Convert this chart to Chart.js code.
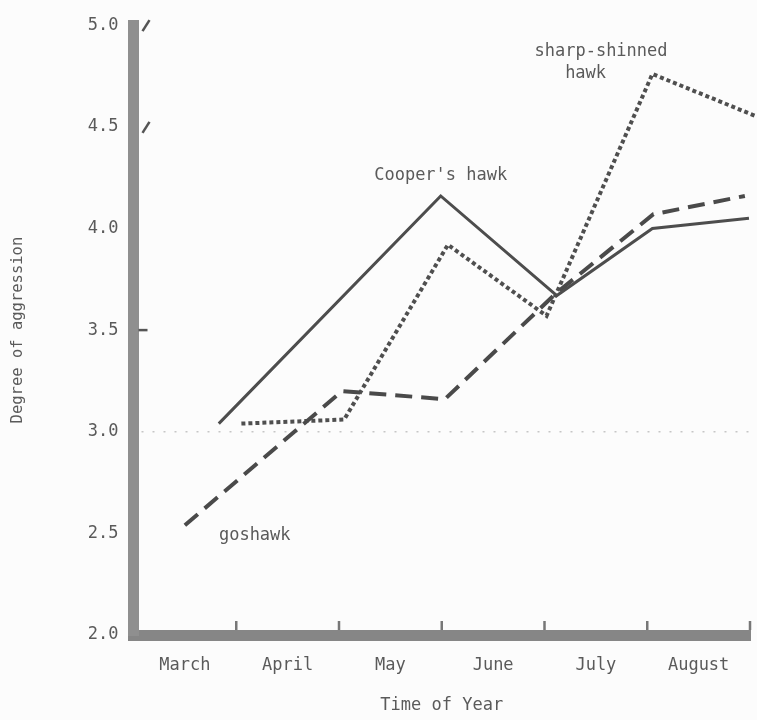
<!DOCTYPE html>
<html lang="en">
<head>
<meta charset="UTF-8">
<title>Degree of aggression</title>
<script src="https://cdn.jsdelivr.net/npm/chart.js@4/dist/chart.umd.min.js"></script>
<style>
  body { margin: 0; background: #fcfcfc; }
</style>
</head>
<body>
<canvas id="cChart" width="757" height="720"></canvas>
<script>
// months sit in the middle of each bin, the marks on the axis are month ends
const months = ['March', 'April', 'May', 'June', 'July', 'August'];
const monthMid = [0.5, 1.5, 2.5, 3.5, 4.5, 5.5];
const monthEnd = [1, 2, 3, 4, 5, 6];
const yMarks = [5.0, 4.5, 3.5];

// time of year (in months from start of March) and degree of aggression
const coopersTime = [0.83, 2.99, 4.12, 5.05, 5.99];
const coopersValue = [3.04, 4.16, 3.67, 4.00, 4.05];
const goshawkTime = [0.50, 2.03, 3.03, 4.11, 5.06, 5.95];
const goshawkValue = [2.54, 3.20, 3.16, 3.68, 4.07, 4.16];
const sharpTime = [1.05, 2.05, 3.06, 4.02, 5.05, 6.07];
const sharpValue = [3.04, 3.06, 3.92, 3.57, 4.76, 4.55];

const notes = [
  {text: "Cooper's hawk", x: 2.99, y: 4.26},
  {text: 'goshawk', x: 1.18, y: 2.49},
  {text: 'sharp-shinned', x: 4.55, y: 4.87},
  {text: 'hawk', x: 4.40, y: 4.76}
];

const toPoints = (t, v) => t.map((x, i) => ({x: x, y: v[i]}));

const FONT = "'DejaVu Sans Mono', 'Liberation Mono', monospace";
Chart.defaults.font.family = FONT;
Chart.defaults.font.size = 17;
Chart.defaults.color = '#5a5a5a';

const extras = {
  id: 'extras',
  beforeDatasetsDraw(chart) {
    const {ctx, chartArea: a, scales: {x, y}} = chart;
    ctx.save();
    // faint dotted line at 3.0
    const y3 = y.getPixelForValue(3);
    ctx.strokeStyle = '#c6c6c6';
    ctx.lineWidth = 1.5;
    ctx.setLineDash([2, 9]);
    ctx.beginPath();
    ctx.moveTo(a.left + 8, y3);
    ctx.lineTo(a.right, y3);
    ctx.stroke();
    ctx.setLineDash([]);
    // month end marks on the x bar
    ctx.strokeStyle = '#777';
    ctx.lineWidth = 2.5;
    monthEnd.forEach(v => {
      const px = x.getPixelForValue(v);
      ctx.beginPath();
      ctx.moveTo(px, a.bottom - 5);
      ctx.lineTo(px, a.bottom - 14);
      ctx.stroke();
    });
    // little hand marks on the y bar
    ctx.strokeStyle = '#555';
    yMarks.forEach(v => {
      const py = y.getPixelForValue(v);
      ctx.beginPath();
      if (v === 3.5) {
        ctx.moveTo(a.left + 5, py);
        ctx.lineTo(a.left + 14, py);
      } else {
        ctx.moveTo(a.left + 9, py + 6);
        ctx.lineTo(a.left + 16, py - 5);
      }
      ctx.stroke();
    });
    ctx.restore();
  },
  afterDatasetsDraw(chart) {
    const {ctx, scales: {x, y}} = chart;
    ctx.save();
    ctx.font = '17px ' + FONT;
    ctx.fillStyle = '#5a5a5a';
    ctx.textAlign = 'center';
    ctx.textBaseline = 'middle';
    notes.forEach(n => ctx.fillText(n.text, x.getPixelForValue(n.x), y.getPixelForValue(n.y)));
    ctx.restore();
  }
};

const data = {
  datasets: [{
    label: "Cooper's hawk",
    data: toPoints(coopersTime, coopersValue),
    borderColor: '#4d4d4d',
    borderWidth: 3
  }, {
    label: 'goshawk',
    data: toPoints(goshawkTime, goshawkValue),
    borderColor: '#4a4a4a',
    borderWidth: 4,
    borderDash: [17, 9]
  }, {
    label: 'sharp-shinned hawk',
    data: toPoints(sharpTime, sharpValue),
    borderColor: '#4f4f4f',
    borderWidth: 4,
    borderDash: [4, 3],
    clip: false
  }]
};

const config = {
  type: 'line',
  data: data,
  plugins: [extras],
  options: {
    responsive: false,
    animation: false,
    layout: { padding: { top: 20.5, right: 7, left: 0, bottom: 0 } },
    elements: {
      point: { radius: 0 },
      line: { tension: 0, borderJoinStyle: 'miter', borderCapStyle: 'butt' }
    },
    plugins: { legend: { display: false }, tooltip: { enabled: false } },
    scales: {
      x: {
        type: 'linear',
        min: 0,
        max: 6,
        afterBuildTicks: s => { s.ticks = monthMid.map(v => ({value: v})); },
        afterFit: s => { s.height = 85; },
        ticks: { callback: (v, i) => months[i], padding: 20, autoSkip: false, maxRotation: 0 },
        grid: { display: false, drawTicks: false },
        border: { width: 11, color: '#868686' },
        title: { display: true, text: 'Time of Year', padding: { top: 0, bottom: 4 } }
      },
      y: {
        min: 2,
        max: 5,
        afterFit: s => { s.width = 133.5; },
        ticks: { stepSize: 0.5, padding: 15, callback: v => v.toFixed(1) },
        grid: { display: false, drawTicks: false },
        border: { width: 11, color: '#8f8f8f' },
        title: { display: true, text: 'Degree of aggression', font: { size: 15.5 }, padding: { top: 9, bottom: 0 } }
      }
    }
  }
};

const cChart = new Chart(document.getElementById('cChart'), config);
</script>
</body>
</html>
